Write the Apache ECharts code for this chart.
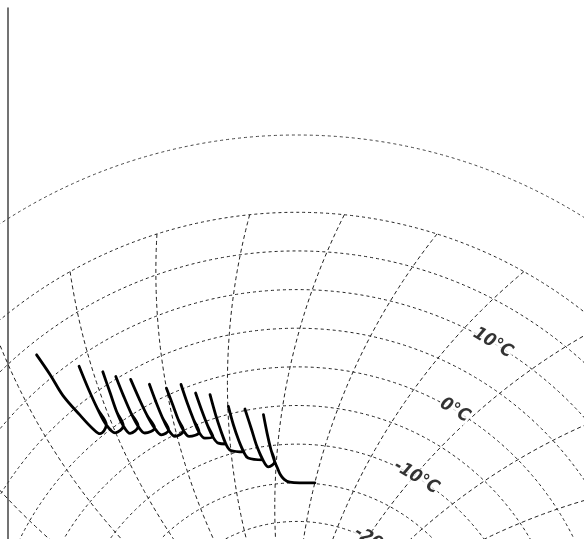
<!DOCTYPE html>
<html><head><meta charset="utf-8">
<script src="https://cdn.jsdelivr.net/npm/echarts@6/dist/echarts.min.js"></script>
<style>html,body{margin:0;padding:0;background:#fff}#c{width:584px;height:539px}</style>
</head><body><div id="c"></div><script>
// ---- data (time in chart days, temperature in °C) ----
const strokeTime = [
  [0.37,0.44,0.49,0.60,0.69,0.76],
  [0.84,0.86,0.88,0.91,0.99],
  [1.13,1.14,1.14,1.16,1.22],
  [1.29,1.32,1.35,1.39,1.46],
  [1.49,1.54,1.59,1.65,1.73],
  [1.75,1.79,1.83,1.88,1.96],
  [2.00,2.05,2.09,2.14,2.22],
  [2.24,2.30,2.36,2.42,2.51],
  [2.46,2.53,2.60,2.67,2.76],
  [2.70,2.77,2.84,2.91,3.00],
  [3.01,3.09,3.18,3.27,3.36],
  [3.31,3.44,3.56,3.69,3.82],
  [3.66,3.76,3.86,3.96,4.02]
];
const strokeTemp = [
  [13.5,10.4,7.3,3.9,1.5,0.4],
  [9.0,5.8,3.1,0.8,-0.7],
  [6.7,3.9,1.4,-0.6,-1.9],
  [5.3,2.6,0.2,-1.7,-2.9],
  [4.0,1.3,-1.1,-3.0,-4.2],
  [2.3,-0.2,-2.3,-4.1,-5.2],
  [0.9,-1.4,-3.4,-5.0,-6.0],
  [0.6,-2.0,-4.2,-6.0,-7.0],
  [-1.1,-3.5,-5.6,-7.2,-8.2],
  [-1.9,-4.6,-6.8,-8.6,-9.6],
  [-4.0,-6.5,-8.6,-10.2,-11.1],
  [-4.8,-7.5,-9.9,-11.7,-12.7],
  [-5.9,-8.4,-10.5,-12.1,-12.8]
];
const tailTime = [4.11,4.22,4.37,4.63,5.00];
const tailTemp = [-13.8,-14.5,-14.9,-15.0,-14.9];

const gridDays = [-2,-1,0,1,2,3,4,5,6,7,8,9,10];
const labelText = ['10°C','0°C','-10°C','-20°C'];
const labelTemp = [10,0,-10,-20];
const labelDay = [6.10,6.12,6.14,6.15];

// ---- chart geometry ----
const T_MIN = -40, T_GRID = 20, T_OUT = 30;
const DAY_DEG = 11.72;           // degrees per day on the disc
const TOP_DAY = 3.5;             // day at 12 o'clock
const PEN_DIAM = 168.3;          // pen-arm circle diameter, in radius-axis units
function penShift(T){
  return (Math.asin((T - T_MIN)/PEN_DIAM) - Math.asin((T_GRID - T_MIN)/PEN_DIAM)) * 180/Math.PI / DAY_DEG;
}
function pt(day, T){ return [T, day + penShift(T)]; }

// trace path: each spike is drawn up and back down its own pen arc
const trace = [];
strokeTime.forEach((ts, k) => {
  const Ts = strokeTemp[k], n = ts.length;
  if (k > 0) for (let i = n - 2; i > 0; i--) trace.push(pt(ts[i], Ts[i]));
  for (let i = 0; i < n; i++) trace.push(pt(ts[i], Ts[i]));
});
tailTime.forEach((d, i) => trace.push(pt(d, tailTemp[i])));

const series = [];
gridDays.forEach(d => {
  const data = [];
  for (let T = T_GRID; T >= -34; T -= 1) data.push(pt(d, T));
  series.push({type:'line', coordinateSystem:'polar', polarIndex:0, data, symbol:'none', silent:true, z:1,
    lineStyle:{color:'#222', width:1, type:[4,3]}});
});
series.push({type:'line', coordinateSystem:'polar', polarIndex:0, data:trace, symbol:'none', z:5, smooth:0.35,
  lineStyle:{color:'#000', width:2.8, cap:'round', join:'round'}});
series.push({type:'scatter', coordinateSystem:'polar', polarIndex:0, symbolSize:0, z:10,
  data: labelTemp.map((T,i)=>[T, labelDay[i]]),
  label:{show:true, position:'inside', formatter:p=>labelText[p.dataIndex], rotate:-31,
    fontSize:18, fontStyle:'italic', fontWeight:'bold', color:'#000', backgroundColor:'#fff', padding:[0,1],
    fontFamily:"'DejaVu Sans Condensed','Liberation Sans Narrow','DejaVu Sans',sans-serif"}});

const A_MIN = TOP_DAY - 180/DAY_DEG, A_MAX = TOP_DAY + 180/DAY_DEG;
const hidden = {axisTick:{show:false}, axisLabel:{show:false}, splitLine:{show:false}};
const option = {
  animation:false,
  backgroundColor:'#fff',
  grid:{left:8, top:8, bottom:0, width:10},
  xAxis:{type:'value', show:false},
  yAxis:{type:'value', axisLine:{show:true, lineStyle:{color:'#444', width:1.5}}, ...hidden},
  polar:[{center:[297,676], radius:541},{center:[297,676], radius:463.7}],
  angleAxis:[
    {polarIndex:0, type:'value', min:A_MIN, max:A_MAX, startAngle:270, clockwise:true,
      axisLine:{show:true, lineStyle:{color:'#444', width:1, type:[3,3]}}, ...hidden},
    {polarIndex:1, type:'value', min:A_MIN, max:A_MAX, startAngle:270, clockwise:true,
      axisLine:{show:false}, ...hidden}
  ],
  radiusAxis:[
    {polarIndex:0, type:'value', min:T_MIN, max:T_OUT, axisLine:{show:false}, ...hidden},
    {polarIndex:1, type:'value', min:T_MIN, max:T_GRID, interval:5, axisLine:{show:false},
      axisTick:{show:false}, axisLabel:{show:false},
      splitLine:{show:true, lineStyle:{color:'#222', width:1, type:[3,3]}}}
  ],
  series
};
echarts.init(document.getElementById('c')).setOption(option);
</script></body></html>
